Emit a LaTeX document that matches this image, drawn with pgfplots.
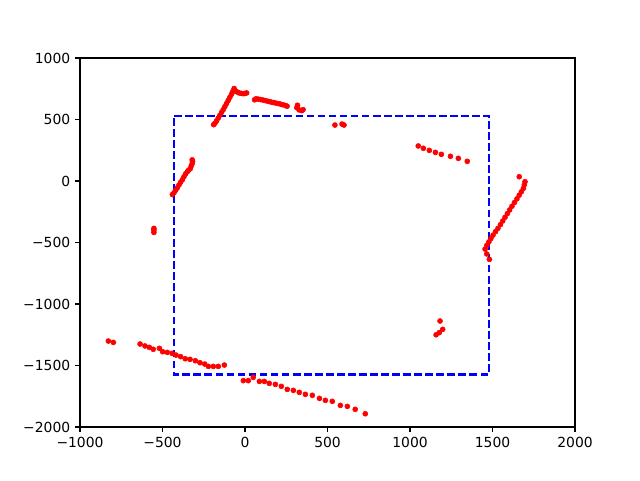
\documentclass[border=0pt]{standalone}
\usepackage{pgfplots}
\pgfplotsset{compat=1.18}
\usepackage{fontspec}
\setmainfont{DejaVu Sans}
\usetikzlibrary{calc}
\begin{document}
\begin{tikzpicture}
\begin{axis}[
  scale only axis,
  width=356.4pt, height=265.7pt,
  xmin=-1000, xmax=2000, ymin=-2000, ymax=1000,
  xtick={-1000,-500,0,500,1000,1500,2000},
  xticklabels={−1000,−500,0,500,1000,1500,2000},
  ytick={-2000,-1500,-1000,-500,0,500,1000},
  yticklabels={−2000,−1500,−1000,−500,0,500,1000},
  tick align=outside,
  major tick length=3.5pt,
  tick style={black, line width=0.8pt},
  axis line style={line width=0.8pt},
  tick label style={font=\fontsize{10}{12}\selectfont},
  xtick pos=bottom, ytick pos=left,
  axis on top=false,
  clip=false,
]
\addplot[blue, line width=1.5pt, dash pattern=on 5.55pt off 2.4pt] coordinates {
(-430,530) (1478,530) (1478,-1573) (-430,-1573) (-430,530)};
\addplot[only marks, mark=*, mark size=1.8pt, red, mark options={draw=red, fill=red}] coordinates {
(-190,458) (-182,470) (-172,490) (-162,512) (-152,535) (-142,558) (-132,580) (-122,605) (-112,630) (-102,655) (-92,680) (-82,705) (-74,728) (-66,752)
(-55,730) (-45,722) (-35,716) (-22,712) (-10,710) (0,712) (10,716)
(58,660) (66,668) (80,666) (95,662) (110,658) (125,653) (140,648) (155,643) (170,638) (185,634) (200,630) (215,625) (230,620) (245,614) (255,608)
(318,616) (314,596) (328,578) (344,572) (352,580)
(545,455) (588,463) (600,455)
(1050,285) (1081,266) (1117,249) (1154,233) (1190,217) (1245,201) (1293,184) (1347,160)
(-440,-110) (-430,-95) (-420,-75) (-410,-55) (-400,-32) (-390,-10) (-380,10) (-370,35) (-360,58) (-350,75) (-342,88) (-332,100) (-326,122) (-320,142) (-318,160) (-320,172)
(-552,-385) (-552,-400) (-552,-418)
(1662,35) (1697,-6) (1693,-30) (1687,-60) (1675,-88) (1662,-115) (1648,-145) (1633,-175) (1618,-205) (1604,-235) (1590,-265) (1576,-295) (1562,-325) (1548,-355) (1533,-385) (1518,-412) (1503,-440) (1490,-468) (1478,-495) (1466,-522) (1455,-553) (1465,-593) (1481,-637)
(1182,-1138) (1198,-1206) (1177,-1233) (1158,-1250)
(-828,-1301) (-798,-1312) (-636,-1325) (-606,-1341) (-580,-1352) (-556,-1368) (-519,-1360) (-499,-1388) (-471,-1393) (-442,-1401) (-418,-1415) (-390,-1428) (-362,-1445) (-333,-1450) (-301,-1461) (-273,-1477) (-244,-1488) (-222,-1507) (-192,-1507) (-162,-1507) (-125,-1496)
(-10,-1623) (20,-1623) (50,-1596) (87,-1629) (117,-1629) (147,-1645) (184,-1653) (220,-1669) (256,-1694) (293,-1702) (329,-1718) (366,-1734) (408,-1742) (451,-1767) (487,-1783) (529,-1791) (578,-1824) (620,-1832) (668,-1856) (729,-1892)
};
\end{axis}
\pgfresetboundingbox
\path[use as bounding box] ($(current axis.south west)+(-57.6pt,-38.16pt)$) rectangle ($(current axis.north east)+(46.8pt,41.76pt)$);
\end{tikzpicture}
\end{document}
